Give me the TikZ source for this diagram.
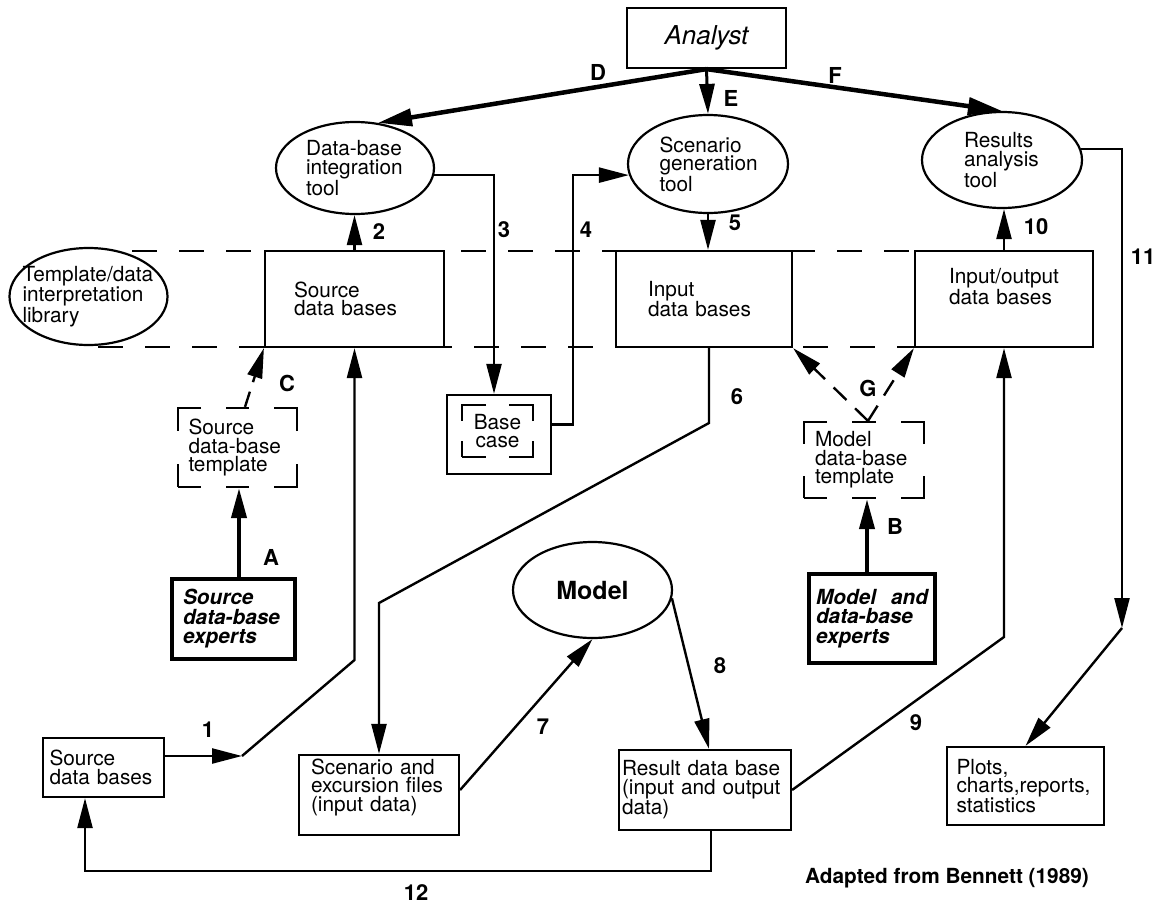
\documentclass[tikz,border=0pt]{standalone}
\usepackage{fontspec}
\setmainfont{TeX Gyre Heros}
\usetikzlibrary{arrows.meta,shapes.geometric}
\begin{document}
\begin{tikzpicture}[x=1pt,y=-1pt,
  nobreak/.style={execute at begin node={\hyphenpenalty=10000 \exhyphenpenalty=10000 }},
  txt/.style={font=\fontsize{20.8}{18.5}\selectfont, nobreak},
  lbl/.style={font=\fontsize{22}{22}\selectfont\bfseries, inner sep=0pt},
  box/.style={draw, line width=2.2pt, fill=white, inner sep=0pt, txt, align=left},
  oval/.style={ellipse, draw, line width=2.2pt, fill=white, inner sep=0pt, txt, align=left},
  expert/.style={draw, line width=4pt, fill=white, inner sep=0pt, align=left, nobreak,
    font=\fontsize{20.8}{19.5}\selectfont\bfseries\itshape},
  link/.style={line width=2.4pt, line join=miter},
  arr/.style={link, -{Triangle[length=30pt,width=15pt]}},
  heavy/.style={line width=4.5pt, -{Triangle[length=34pt,width=17pt]}},
  strong/.style={line width=4pt, -{Triangle[length=30pt,width=15pt]}},
  layer/.style={line width=2.5pt, dash pattern=on 25pt off 22pt},
  dasharr/.style={arr, dash pattern=on 18pt off 12pt},
]
\useasboundingbox (0,0) rectangle (1159,905);

% layer boundaries of the data-base level
\draw[layer] (132,251) -- (1093,251);
\draw[layer] (98,347) -- (1093,347);

% top level: analyst and tools
\node[box, minimum width=159pt, minimum height=60pt, font=\fontsize{26}{26}\selectfont\itshape] (an) at (706.5,38) {Analyst};
\node[oval, minimum width=158pt, minimum height=92pt, text width=98pt] (dbi) at (355,168) {Data-base\\integration\\tool};
\node[oval, minimum width=160pt, minimum height=98pt, text width=97pt] (scen) at (708,164) {Scenario\\generation\\tool};
\node[oval, minimum width=160pt, minimum height=96pt, text width=76pt] (res) at (1002,160) {Results\\analysis\\tool};

% data-base level
\node[ellipse, draw, line width=2.2pt, minimum width=158pt, minimum height=97pt] (tpl) at (88.5,296.5) {};
\node[txt, align=left, text width=132pt, inner sep=0pt] (tpltxt) at (tpl.center) {Template/data\\interpretation\\library};
\node[box, minimum width=179pt, minimum height=96pt, text width=121pt] (sdb) at (354.5,299) {Source\\data bases};
\node[box, minimum width=176pt, minimum height=96pt, text width=112pt] (idb) at (704,299) {Input\\data bases};
\node[box, minimum width=178pt, minimum height=96pt, text width=110pt] (iodb) at (1004,299) {Input/output\\data bases\\[6pt]\mbox{}};

% templates, base case and experts
\node[box, minimum width=104pt, minimum height=79pt] (bc) at (499,434.5) {};
\node[draw, line width=2.2pt, inner sep=0pt, txt, align=center, minimum width=71pt, minimum height=52pt,
  dash pattern=on 24pt off 23pt on 40pt off 20pt on 40pt off 23pt on 40pt off 20pt on 16pt] (bcin) at (497.5,431) {Base\\case};
\node[box, minimum width=119pt, minimum height=79pt, text width=98pt,
  dash pattern=on 23pt off 25pt on 23pt off 25pt on 46pt off 33pt on 46pt off 25pt on 23pt off 25pt on 46pt off 33pt on 23pt] (stpl) at (237.5,447.5) {Source\\data-base\\template};
\node[box, minimum width=120pt, minimum height=76pt, text width=98pt,
  dash pattern=on 23pt off 25pt on 24pt off 25pt on 45pt off 32pt on 45pt off 25pt on 24pt off 25pt on 45pt off 32pt on 22pt] (mtpl) at (864,460) {Model\\data-base\\template};
\node[expert, minimum width=123pt, minimum height=80pt, text width=101pt] (sexp) at (233.5,619) {Source\\data-base\\experts};
\node[expert, minimum width=126pt, minimum height=89pt, text width=112pt] (mexp) at (872,618.5) {Model\hfill and\\data-base\\experts};

% model level
\node[oval, minimum width=159pt, minimum height=96pt, font=\fontsize{25}{25}\selectfont\bfseries] (model) at (592.5,590) {Model};
\node[box, minimum width=121pt, minimum height=59pt, text width=108pt] (sdb2) at (103.5,767.5) {Source\\data bases};
\node[box, minimum width=160pt, minimum height=80pt, text width=136pt] (sef) at (379,795) {Scenario and\\excursion files\\(input data)\\[2pt]\mbox{}};
\node[box, minimum width=172pt, minimum height=80pt, text width=166pt] (rdb) at (705,790) {Result data base\\(input and output\\data)};
\node[box, minimum width=157pt, minimum height=78pt, text width=138pt] (plots) at (1025.5,786) {Plots,\\charts,reports,\\statistics};
\node[lbl, font=\fontsize{20.8}{20.8}\selectfont\bfseries] (credit) at (947,878) {Adapted from Bennett (1989)};

% bend points
\coordinate (br) at (an.south);
\coordinate (k1a) at (242,756);
\coordinate (k1b) at (354.5,660);
\coordinate (k6a) at (709,423);
\coordinate (k6b) at (379,603);
\coordinate (k9) at (1004,637);
\coordinate (k11) at (1122,628);
\coordinate (k12a) at (711,871);
\coordinate (k12b) at (85,871);

% analyst's control
\draw[heavy] (br) -- (dbi.63);
\draw[link, line width=3pt, -{Triangle[length=30pt,width=15pt]}] (br) -- (scen.north);
\draw[heavy] (br) -- (res.north);

% numbered data flows
\draw[arr] ([yshift=11.5pt]sdb2.east) -- (k1a);
\draw[arr] (k1a) -- (k1b) -- (sdb.south);
\draw[arr] (sdb.north) -- (sdb.north |- dbi.south);
\draw[arr] (dbi.-5) -| ([xshift=-5pt]bc.north);
\draw[arr] ([yshift=10pt]bc.east) -- ++(21,0) |- (scen.188);
\draw[arr] (scen.south) -- (scen.south |- idb.north);
\draw[arr] ([xshift=5pt]idb.south) -- (k6a) -- (k6b) -- (sef.north);
\draw[arr] ([yshift=5pt]sef.east) -- (model.south);
\draw[arr] (model.-6) -- ([xshift=4pt]rdb.north);
\draw[arr] (rdb.east) -- (k9) -- (iodb.south);
\draw[arr] (iodb.north) -- (iodb.north |- res.south);
\draw[arr] (res.8) -| (k11);
\draw[arr] (k11) -- (plots.north);
\draw[arr] ([xshift=6pt]rdb.south) -- (k12a) -- (k12b) -- (k12b |- sdb2.south);

% experts and templates
\draw[strong] ([xshift=5.5pt]sexp.north) -- ([xshift=1.5pt]stpl.south);
\draw[strong] ([xshift=-5pt]mexp.north) -- ([xshift=3pt]mtpl.south);
\draw[arr, dash pattern=on 16pt off 10pt] ([xshift=7.5pt]stpl.north) -- (sdb.south west);
\draw[dasharr] ([xshift=4pt]mtpl.north) -- (idb.south east);
\draw[dasharr] ([xshift=4pt]mtpl.north) -- (iodb.south west);

% flow labels
\node[lbl] (lD) at (598,72) {D};
\node[lbl] (lE) at (731,98) {E};
\node[lbl] (lF) at (835,75) {F};
\node[lbl] (l2) at (379,232) {2};
\node[lbl] (l3) at (504,230) {3};
\node[lbl] (l4) at (586,230) {4};
\node[lbl] (l5) at (735,223) {5};
\node[lbl] (l10) at (1036,227) {10};
\node[lbl] (l11) at (1143,257) {11};
\node[lbl] (lC) at (287,383) {C};
\node[lbl] (lA) at (271,557) {A};
\node[lbl] (lB) at (895,526) {B};
\node[lbl] (lG) at (868,388) {G};
\node[lbl] (l6) at (737,397) {6};
\node[lbl] (l7) at (543,727) {7};
\node[lbl] (l8) at (720,666) {8};
\node[lbl] (l9) at (916,723) {9};
\node[lbl] (l1) at (208,730) {1};
\node[lbl] (l12) at (416,893) {12};
\end{tikzpicture}
\end{document}
